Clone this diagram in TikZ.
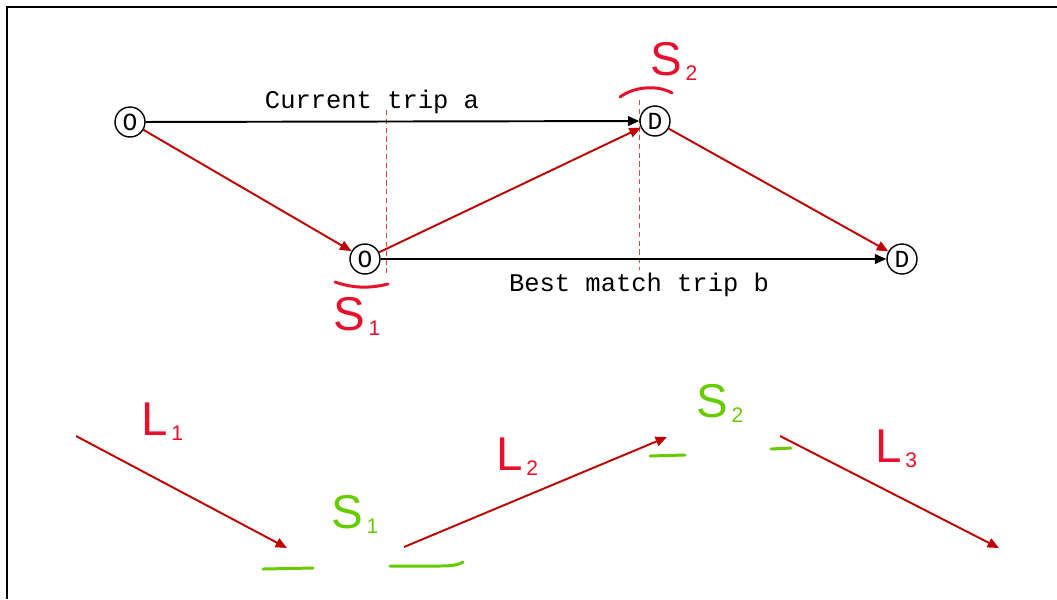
\documentclass[tikz,border=0pt]{standalone}
\usepackage{fontspec}
\setmonofont{Liberation Mono}
\setsansfont{Liberation Sans}
\usetikzlibrary{arrows.meta}
\definecolor{tripred}{RGB}{192,0,0}
\definecolor{inkred}{RGB}{232,16,42}
\definecolor{inkgreen}{RGB}{102,204,0}
\newcommand{\hand}[2]{\sffamily\fontsize{27}{30}\selectfont #1\kern2pt\raisebox{-3pt}{\fontsize{12}{14}\selectfont #2}}

\begin{document}
\begin{tikzpicture}[x=0.02cm,y=-0.02cm,>={Triangle[length=6.5pt,width=5.5pt]},
  endpt/.style={draw, circle, line width=0.8pt, minimum size=0.6cm, inner sep=0pt, fill=white, font=\ttfamily\fontsize{14}{16}\selectfont},
  trip/.style={line width=1.1pt, ->},
  link/.style={tripred, line width=1.1pt, ->},
  cut/.style={tripred!70, line width=0.4pt, dash pattern=on 3pt off 2pt},
  ink/.style={line width=1.7pt, line cap=round},
  hw/.style={anchor=base west, inner sep=0pt},
  lbl/.style={font=\ttfamily\fontsize{14.5}{16}\selectfont}]
  \useasboundingbox (0,0) rectangle (1057,599);
  \draw[line width=1.1pt] (7,599) -- (7,7) -- (1057,7);

  % upper part: the two trips
  \coordinate (cutAtop) at (386,110);
  \coordinate (cutAbot) at (386,276);
  \coordinate (cutBtop) at (639,100);
  \coordinate (cutBbot) at (639,270);
  \draw[cut] (cutAtop) -- (cutAbot);
  \draw[cut] (cutBtop) -- (cutBbot);

  \node (oa) [endpt] at (130,122) {O};
  \node (da) [endpt] at (655,121) {D};
  \node (ob) [endpt] at (365,259) {O};
  \node (db) [endpt] at (902,259) {D};
  \node (tripa) [lbl] at (372,102) {Current trip a};
  \node (tripb) [lbl] at (639,285) {Best match trip b};

  \draw[trip] (oa) -- (da);
  \draw[trip] (ob) -- (db);
  \draw[link] (oa) -- (ob);
  \draw[link] (ob) -- (da);
  \draw[link] (da) -- (db);

  % handwritten marks
  \draw[ink, inkred] (335,282) .. controls (355,289) and (372,288) .. (388,284);
  \draw[ink, inkred] (620,97) .. controls (635,86) and (658,85) .. (672,93);
  \node (sa) [hw, inkred] at (333,330) {\hand{S}{1}};
  \node (sb) [hw, inkred] at (650,75) {\hand{S}{2}};

  % lower part: the legs
  \coordinate (lastart) at (76,436);
  \coordinate (laend) at (287,548);
  \coordinate (lbstart) at (404,547);
  \coordinate (lbend) at (667,437);
  \coordinate (lcstart) at (780,436);
  \coordinate (lcend) at (999,548);
  \draw[link] (lastart) -- (laend);
  \draw[link] (lbstart) -- (lbend);
  \draw[link] (lcstart) -- (lcend);
  \node (la) [hw, inkred] at (141,435) {\hand{L}{1}};
  \node (lb) [hw, inkred] at (496,470) {\hand{L}{2}};
  \node (lc) [hw, inkred] at (875,462) {\hand{L}{3}};

  \draw[ink, inkgreen] (263,569) -- (313,568);
  \draw[ink, inkgreen] (390,566) -- (440,566) .. controls (452,566) and (458,565) .. (463,562);
  \draw[ink, inkgreen] (650,456) -- (685,455);
  \draw[ink, inkgreen] (771,449) -- (791,448);
  \node (ga) [hw, inkgreen] at (331,528) {\hand{S}{1}};
  \node (gb) [hw, inkgreen] at (696,417) {\hand{S}{2}};
\end{tikzpicture}
\end{document}
